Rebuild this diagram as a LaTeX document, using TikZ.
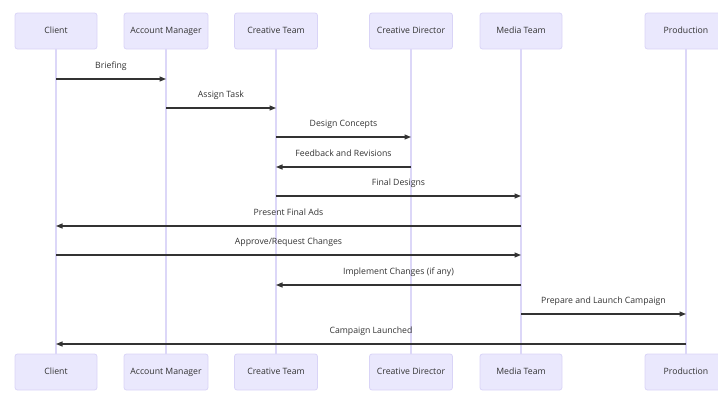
\documentclass[tikz,border=0pt]{standalone}
\usepackage{fontspec}
\setmainfont{Open Sans}
\usetikzlibrary{arrows.meta}
\definecolor{boxfill}{HTML}{EAE8FD}
\definecolor{boxline}{HTML}{D9D4F7}
\definecolor{lifeline}{HTML}{DCD7F8}
\definecolor{msgcol}{HTML}{333333}
\definecolor{txtcol}{HTML}{333333}
\tikzset{
  actor/.style={draw=boxline, fill=boxfill, line width=0.8pt, rounded corners=2.5pt,
    minimum width=82pt, minimum height=36pt, inner sep=0pt, text=txtcol,
    text height=6.3pt, text depth=1.9pt,
    font=\fontsize{8.7}{10}\selectfont},
  life/.style={draw=lifeline, line width=1.3pt},
  msg/.style={draw=msgcol, line width=1.2pt, -{Triangle[length=6.5pt,width=5pt]}},
  lbl/.style={text=txtcol, font=\fontsize{8.7}{10}\selectfont, inner sep=1pt,
    text height=6.3pt, text depth=1.9pt}
}
\begin{document}
\begin{tikzpicture}[x=1pt,y=-1pt]
\useasboundingbox (0,0) rectangle (718,418);
\begin{scope}
\clip (0,0) rectangle (718,418);
% top actors
\node[actor] (cT)  at (56,31)  {Client};
\node[actor, minimum width=84pt] (amT) at (166,31) {Account Manager};
\node[actor, minimum width=83pt] (ctT) at (276,31) {Creative Team};
\node[actor, minimum width=83pt] (cdT) at (411,31) {Creative Director};
\node[actor] (mtT) at (521,31) {Media Team};
\node[actor] (pT)  at (686,31) {Production};
% bottom actors
\node[actor] (cB)  at (56,372)  {Client};
\node[actor, minimum width=84pt] (amB) at (166,372) {Account Manager};
\node[actor, minimum width=83pt] (ctB) at (276,372) {Creative Team};
\node[actor, minimum width=83pt] (cdB) at (411,372) {Creative Director};
\node[actor] (mtB) at (521,372) {Media Team};
\node[actor] (pB)  at (686,372) {Production};
\end{scope}
% lifelines
\draw[life] (cT.south) -- (cB.north);
\draw[life] (amT.south) -- (amB.north);
\draw[life] (ctT.south) -- (ctB.north);
\draw[life] (cdT.south) -- (cdB.north);
\draw[life] (mtT.south) -- (mtB.north);
\draw[life] (pT.south) -- (pB.north);
% messages
\draw[msg] (cT |- 0,79) -- (amT |- 0,79);
\node[lbl] (l1) at (111,66) {Briefing};
\draw[msg] (amT |- 0,108) -- (ctT |- 0,108);
\node[lbl] (l2) at (221,95) {Assign Task};
\draw[msg] (ctT |- 0,137) -- (cdT |- 0,137);
\node[lbl] (l3) at (343.5,124.5) {Design Concepts};
\draw[msg] (cdT |- 0,167) -- (ctT |- 0,167);
\node[lbl] (l4) at (343.5,154) {Feedback and Revisions};
\draw[msg] (ctT |- 0,196) -- (mtT |- 0,196);
\node[lbl] (l5) at (398.5,183) {Final Designs};
\draw[msg] (mtT |- 0,226) -- (cT |- 0,226);
\node[lbl] (l6) at (288.5,213) {Present Final Ads};
\draw[msg] (cT |- 0,255) -- (mtT |- 0,255);
\node[lbl] (l7) at (288.5,242) {Approve/Request Changes};
\draw[msg] (mtT |- 0,285) -- (ctT |- 0,285);
\node[lbl] (l8) at (398.5,272) {Implement Changes (if any)};
\draw[msg] (mtT |- 0,314) -- (pT |- 0,314);
\node[lbl] (l9) at (603.5,301.5) {Prepare and Launch Campaign};
\draw[msg] (pT |- 0,344) -- (cT |- 0,344);
\node[lbl] (l10) at (371,331) {Campaign Launched};
\end{tikzpicture}
\end{document}
